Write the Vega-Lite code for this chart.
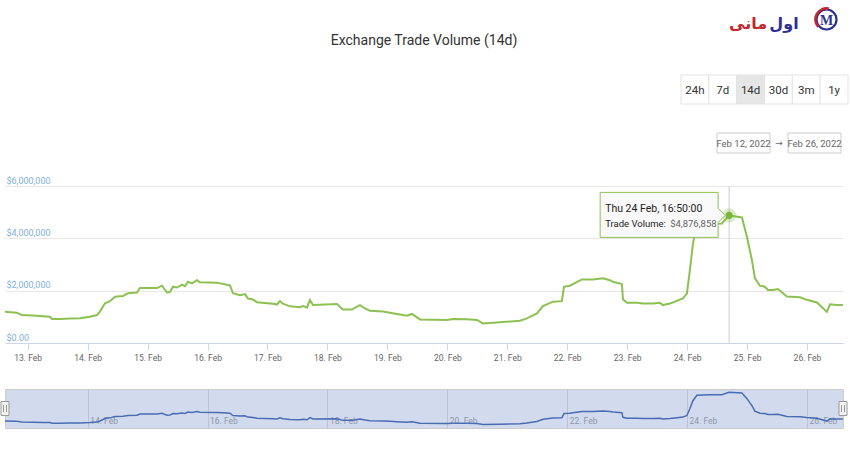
{
  "$schema": "https://vega.github.io/schema/vega-lite/v6.json",
  "background": "white",
  "padding": {"left": -2, "top": 0, "right": 0, "bottom": 0},
  "bounds": "flush",
  "spacing": 46,
  "config": {"font": "Roboto", "view": {"stroke": null}},
  "datasets": {
    "vol": [
      {"t": "2022-02-12T14:55", "v": 1190000}, {"t": "2022-02-12T19:36", "v": 1160000}, {"t": "2022-02-12T21:36", "v": 1070000},
      {"t": "2022-02-13T02:07", "v": 1050000}, {"t": "2022-02-13T06:07", "v": 1020000}, {"t": "2022-02-13T08:56", "v": 1000000},
      {"t": "2022-02-13T09:44", "v": 920000}, {"t": "2022-02-13T12:56", "v": 920000}, {"t": "2022-02-13T16:56", "v": 940000},
      {"t": "2022-02-13T20:56", "v": 950000}, {"t": "2022-02-14T00:56", "v": 1000000}, {"t": "2022-02-14T03:44", "v": 1070000},
      {"t": "2022-02-14T04:56", "v": 1200000}, {"t": "2022-02-14T06:56", "v": 1520000}, {"t": "2022-02-14T08:57", "v": 1600000},
      {"t": "2022-02-14T10:57", "v": 1770000}, {"t": "2022-02-14T14:09", "v": 1800000}, {"t": "2022-02-14T16:09", "v": 1900000},
      {"t": "2022-02-14T19:45", "v": 1930000}, {"t": "2022-02-14T20:57", "v": 2100000}, {"t": "2022-02-15T03:46", "v": 2100000},
      {"t": "2022-02-15T05:46", "v": 2190000}, {"t": "2022-02-15T07:46", "v": 1930000}, {"t": "2022-02-15T08:58", "v": 1950000},
      {"t": "2022-02-15T10:10", "v": 2150000}, {"t": "2022-02-15T11:46", "v": 2120000}, {"t": "2022-02-15T13:46", "v": 2230000},
      {"t": "2022-02-15T14:58", "v": 2170000}, {"t": "2022-02-15T16:10", "v": 2340000}, {"t": "2022-02-15T17:46", "v": 2280000},
      {"t": "2022-02-15T19:46", "v": 2400000}, {"t": "2022-02-15T20:58", "v": 2320000}, {"t": "2022-02-16T03:47", "v": 2300000},
      {"t": "2022-02-16T06:11", "v": 2260000}, {"t": "2022-02-16T08:59", "v": 2200000}, {"t": "2022-02-16T10:11", "v": 1900000},
      {"t": "2022-02-16T12:59", "v": 1830000}, {"t": "2022-02-16T14:59", "v": 1870000}, {"t": "2022-02-16T16:11", "v": 1700000},
      {"t": "2022-02-16T18:11", "v": 1660000}, {"t": "2022-02-16T19:47", "v": 1560000}, {"t": "2022-02-17T02:11", "v": 1500000},
      {"t": "2022-02-17T03:48", "v": 1470000}, {"t": "2022-02-17T05:00", "v": 1600000}, {"t": "2022-02-17T06:12", "v": 1500000},
      {"t": "2022-02-17T09:00", "v": 1400000}, {"t": "2022-02-17T13:01", "v": 1370000}, {"t": "2022-02-17T14:13", "v": 1410000},
      {"t": "2022-02-17T15:49", "v": 1360000}, {"t": "2022-02-17T17:01", "v": 1640000}, {"t": "2022-02-17T18:13", "v": 1450000},
      {"t": "2022-02-18T03:49", "v": 1490000}, {"t": "2022-02-18T06:13", "v": 1280000}, {"t": "2022-02-18T09:50", "v": 1280000},
      {"t": "2022-02-18T11:50", "v": 1390000}, {"t": "2022-02-18T13:02", "v": 1450000}, {"t": "2022-02-18T15:02", "v": 1320000},
      {"t": "2022-02-18T17:02", "v": 1230000}, {"t": "2022-02-18T22:14", "v": 1200000}, {"t": "2022-02-19T01:02", "v": 1160000},
      {"t": "2022-02-19T03:50", "v": 1110000}, {"t": "2022-02-19T07:50", "v": 1040000}, {"t": "2022-02-19T09:50", "v": 1110000},
      {"t": "2022-02-19T13:03", "v": 900000}, {"t": "2022-02-19T23:52", "v": 880000}, {"t": "2022-02-20T02:16", "v": 920000},
      {"t": "2022-02-20T07:52", "v": 910000}, {"t": "2022-02-20T11:52", "v": 880000}, {"t": "2022-02-20T14:16", "v": 750000},
      {"t": "2022-02-20T21:04", "v": 790000}, {"t": "2022-02-21T05:05", "v": 850000}, {"t": "2022-02-21T07:53", "v": 940000},
      {"t": "2022-02-21T11:53", "v": 1130000}, {"t": "2022-02-21T14:17", "v": 1410000}, {"t": "2022-02-21T18:17", "v": 1580000},
      {"t": "2022-02-21T21:53", "v": 1600000}, {"t": "2022-02-21T22:41", "v": 2150000}, {"t": "2022-02-22T01:05", "v": 2190000},
      {"t": "2022-02-22T02:17", "v": 2250000}, {"t": "2022-02-22T05:54", "v": 2430000}, {"t": "2022-02-22T10:18", "v": 2430000},
      {"t": "2022-02-22T14:18", "v": 2470000}, {"t": "2022-02-22T17:06", "v": 2400000}, {"t": "2022-02-22T18:19", "v": 2340000},
      {"t": "2022-02-22T21:55", "v": 2250000}, {"t": "2022-02-22T22:19", "v": 1670000}, {"t": "2022-02-22T23:55", "v": 1540000},
      {"t": "2022-02-23T03:55", "v": 1540000}, {"t": "2022-02-23T06:19", "v": 1510000}, {"t": "2022-02-23T10:19", "v": 1510000},
      {"t": "2022-02-23T13:07", "v": 1540000}, {"t": "2022-02-23T14:19", "v": 1450000}, {"t": "2022-02-23T17:08", "v": 1510000},
      {"t": "2022-02-23T19:08", "v": 1580000}, {"t": "2022-02-23T22:20", "v": 1700000}, {"t": "2022-02-23T23:56", "v": 1900000},
      {"t": "2022-02-24T01:08", "v": 2790000}, {"t": "2022-02-24T02:20", "v": 3800000}, {"t": "2022-02-24T03:56", "v": 4500000},
      {"t": "2022-02-24T09:00", "v": 4550000}, {"t": "2022-02-24T13:56", "v": 4570000}, {"t": "2022-02-24T16:50", "v": 4876858},
      {"t": "2022-02-24T21:57", "v": 4800000}, {"t": "2022-02-24T23:57", "v": 4060000}, {"t": "2022-02-25T01:57", "v": 3170000},
      {"t": "2022-02-25T03:09", "v": 2470000}, {"t": "2022-02-25T05:10", "v": 2190000}, {"t": "2022-02-25T07:10", "v": 2150000},
      {"t": "2022-02-25T08:22", "v": 2030000}, {"t": "2022-02-25T10:22", "v": 2030000}, {"t": "2022-02-25T12:22", "v": 2060000},
      {"t": "2022-02-25T15:58", "v": 1780000}, {"t": "2022-02-25T21:10", "v": 1750000}, {"t": "2022-02-25T23:58", "v": 1650000},
      {"t": "2022-02-26T03:58", "v": 1550000}, {"t": "2022-02-26T07:59", "v": 1190000}, {"t": "2022-02-26T09:11", "v": 1480000},
      {"t": "2022-02-26T11:59", "v": 1450000}, {"t": "2022-02-26T14:23", "v": 1450000}
    ],
    "hover": [{"t": "2022-02-24T16:50", "v": 4876858, "series": "Trade Volume"}],
    "range": [{"key": "from", "t": "2022-02-12T14:55", "row": "dates"}, {"key": "to", "t": "2022-02-26T14:25", "row": "dates"}],
    "buttons": [
      {"label": "24h", "selected": false, "row": "buttons"}, {"label": "7d", "selected": false, "row": "buttons"},
      {"label": "14d", "selected": true, "row": "buttons"}, {"label": "30d", "selected": false, "row": "buttons"},
      {"label": "3m", "selected": false, "row": "buttons"}, {"label": "1y", "selected": false, "row": "buttons"}
    ]
  },
  "vconcat": [
    {
      "width": 838,
      "height": 140,
      "layer": [
        {
          "data": {"values": [{"row": "title", "label": "Exchange Trade Volume (14d)"}]},
          "mark": {"type": "text", "fontSize": 14, "color": "#333333"},
          "encoding": {
            "y": {"field": "row", "type": "nominal", "axis": null, "scale": {"type": "band", "domain": ["title"], "range": [30, 52], "paddingInner": 0, "paddingOuter": 0}},
            "text": {"field": "label"}
          }
        },
        {
          "data": {"values": [{"row": "logo", "word": "مانی"}, {"row": "logo", "word": "اول"}]},
          "mark": {"type": "text", "fontSize": 16, "font": "DejaVu Sans", "fontWeight": "bold"},
          "encoding": {
            "x": {"field": "word", "type": "nominal", "sort": null, "axis": null, "scale": {"type": "band", "domain": ["مانی", "اول"], "range": [725, 797], "paddingInner": 0, "paddingOuter": 0}},
            "y": {"field": "row", "type": "nominal", "axis": null, "scale": {"type": "band", "domain": ["logo"], "range": [15, 33], "paddingInner": 0, "paddingOuter": 0}},
            "color": {"field": "word", "type": "nominal", "legend": null, "scale": {"domain": ["مانی", "اول"], "range": ["#c1272d", "#2e3192"]}},
            "text": {"field": "word"}
          }
        },
        {
          "data": {"values": [{"row": "icon", "letter": "M"}]},
          "encoding": {
            "x": {"field": "letter", "type": "nominal", "axis": null, "scale": {"type": "band", "domain": ["M"], "range": [810, 833], "paddingInner": 0, "paddingOuter": 0}},
            "y": {"field": "row", "type": "nominal", "axis": null, "scale": {"type": "band", "domain": ["icon"], "range": [9, 30], "paddingInner": 0, "paddingOuter": 0}}
          },
          "layer": [
            {"mark": {"type": "point", "shape": "circle", "size": 400, "filled": false, "stroke": "#2e3192", "strokeWidth": 2.2, "opacity": 1}},
            {"mark": {"type": "arc", "radius": 12.4, "radius2": 9.8, "theta": -2.3, "theta2": 0.2, "fill": "#c1272d"}},
            {"mark": {"type": "text", "font": "Liberation Serif", "fontWeight": "bold", "fontSize": 14, "color": "#2e3192", "dy": 1}, "encoding": {"text": {"field": "letter"}}}
          ]
        },
        {
          "data": {"name": "buttons"},
          "encoding": {
            "x": {"field": "label", "type": "nominal", "sort": null, "axis": null, "scale": {"type": "band", "domain": ["24h", "7d", "14d", "30d", "3m", "1y"], "range": [676, 843], "paddingInner": 0, "paddingOuter": 0}},
            "y": {"field": "row", "type": "nominal", "axis": null, "scale": {"type": "band", "domain": ["buttons"], "range": [75, 104], "paddingInner": 0, "paddingOuter": 0}}
          },
          "layer": [
            {"mark": {"type": "rect", "stroke": "#e3e3e3", "strokeWidth": 1},
             "encoding": {"fill": {"condition": {"test": "datum.selected", "value": "#e6e6e6"}, "value": "#ffffff"}}},
            {"mark": {"type": "text", "fontSize": 11.5, "color": "#333333", "dy": 1}, "encoding": {"text": {"field": "label"}}}
          ]
        },
        {
          "data": {"name": "range"},
          "encoding": {
            "x": {"field": "key", "type": "nominal", "sort": null, "axis": null, "scale": {"type": "band", "domain": ["from", "to"], "range": [712, 836], "paddingInner": 0.2535, "paddingOuter": 0}},
            "y": {"field": "row", "type": "nominal", "axis": null, "scale": {"type": "band", "domain": ["dates"], "range": [133, 153], "paddingInner": 0, "paddingOuter": 0}}
          },
          "layer": [
            {"mark": {"type": "rect", "stroke": "#cccccc", "strokeWidth": 1, "fill": "#ffffff"}},
            {"mark": {"type": "text", "fontSize": 9.5, "color": "#666666", "dy": 1}, "encoding": {"text": {"field": "t", "type": "temporal", "format": "%b %d, %Y"}}}
          ]
        },
        {
          "data": {"values": [{"row": "dates", "key": "arrow", "label": "→"}]},
          "mark": {"type": "text", "fontSize": 9, "color": "#666666", "font": "DejaVu Sans"},
          "encoding": {
            "x": {"field": "key", "type": "nominal", "axis": null, "scale": {"type": "band", "domain": ["arrow"], "range": [765, 783], "paddingInner": 0, "paddingOuter": 0}},
            "y": {"field": "row", "type": "nominal", "axis": null, "scale": {"type": "band", "domain": ["dates"], "range": [133, 153], "paddingInner": 0, "paddingOuter": 0}},
            "text": {"field": "label"}
          }
        }
      ],
      "resolve": {"scale": {"x": "independent", "y": "independent", "color": "independent"}}
    },
    {
      "width": 838,
      "height": 157,
      "encoding": {
        "x": {"field": "t", "type": "temporal",
          "scale": {"domain": [{"year": 2022, "month": 2, "date": 12, "hours": 14, "minutes": 55}, {"year": 2022, "month": 2, "date": 26, "hours": 14, "minutes": 25}]},
          "axis": {"title": null, "format": "%d. %b", "tickCount": {"interval": "day", "step": 1}, "grid": false, "labelColor": "#666666", "labelFontSize": 8.5, "tickColor": "#ccd6eb", "domainColor": "#ccd6eb", "tickSize": 7, "labelPadding": 3, "labelFlush": false, "labelOverlap": false}},
        "y": {"field": "v", "type": "quantitative",
          "scale": {"domain": [0, 6000000], "nice": false},
          "axis": {"title": null, "values": [0, 2000000, 4000000, 6000000], "labelExpr": "datum.value === 0 ? '$0.00' : format(datum.value, '$,.0f')", "domain": false, "ticks": false, "labelAlign": "left", "labelBaseline": "alphabetic", "labelPadding": -1, "labelOffset": -3, "labelColor": "#7fb0d9", "labelFontSize": 9, "gridColor": "#e6e6e6", "labelFlush": false}}
      },
      "layer": [
        {"data": {"name": "vol"}, "mark": {"type": "line", "color": "#8cc152", "strokeWidth": 2}},
        {"data": {"name": "hover"}, "mark": {"type": "rule", "color": "#cccccc", "strokeWidth": 1}, "encoding": {"y": null}},
        {"data": {"name": "hover"}, "mark": {"type": "point", "shape": "circle", "size": 200, "filled": true, "color": "#8cc152", "opacity": 0.3}},
        {"data": {"name": "hover"}, "mark": {"type": "point", "shape": "circle", "size": 50, "filled": true, "color": "#7cb342", "opacity": 1}},
        {"data": {"name": "hover"}, "mark": {"type": "point", "shape": "M-129,-23H-11V-7L-4,0L-11,7V22H-129Z", "size": 4, "filled": true, "fill": "#f9f9f9", "stroke": "#8cc152", "strokeWidth": 1, "opacity": 1}},
        {"data": {"name": "hover"}, "mark": {"type": "text", "align": "left", "baseline": "middle", "dx": -124, "dy": -6, "fontSize": 10.5, "color": "#222222"},
         "encoding": {"text": {"field": "t", "type": "temporal", "format": "%a %d %b, %H:%M:%S"}}},
        {"data": {"name": "hover"}, "mark": {"type": "text", "align": "left", "baseline": "middle", "dx": -124, "dy": 9, "fontSize": 9.5, "color": "#222222", "text": "Trade Volume:"}},
        {"data": {"name": "hover"}, "mark": {"type": "text", "align": "left", "baseline": "middle", "dx": -59, "dy": 9, "fontSize": 9.5, "color": "#666666"},
         "encoding": {"text": {"field": "v", "type": "quantitative", "format": "$,.0f"}}}
      ]
    },
    {
      "width": 838,
      "height": 39,
      "view": {"fill": "#d2dbed", "stroke": "#cccccc"},
      "encoding": {
        "x": {"field": "t", "type": "temporal",
          "scale": {"domain": [{"year": 2022, "month": 2, "date": 12, "hours": 14, "minutes": 55}, {"year": 2022, "month": 2, "date": 26, "hours": 14, "minutes": 25}]},
          "axis": {"title": null, "values": [{"year": 2022, "month": 2, "date": 14}, {"year": 2022, "month": 2, "date": 16}, {"year": 2022, "month": 2, "date": 18}, {"year": 2022, "month": 2, "date": 20}, {"year": 2022, "month": 2, "date": 22}, {"year": 2022, "month": 2, "date": 24}, {"year": 2022, "month": 2, "date": 26}],
            "format": "%d. %b", "grid": true, "gridColor": "#bcc4d3", "domain": false, "ticks": false, "labelAlign": "left", "labelBaseline": "alphabetic", "labelPadding": -5, "labelOffset": 2, "labelColor": "#8c96a8", "labelFontSize": 8.5, "labelFlush": false, "labelOverlap": false}}
      },
      "layer": [
        {"data": {"name": "vol"}, "mark": {"type": "line", "color": "#4a6cb3", "strokeWidth": 1.5},
         "encoding": {"y": {"field": "v", "type": "quantitative", "scale": {"domain": [300000, 5300000], "nice": false, "zero": false}, "axis": null}}},
        {"data": {"name": "range"}, "mark": {"type": "point", "shape": "M-4,-7H4V7H-4Z M-1.5,-3.5V3.5 M1.5,-3.5V3.5", "size": 4, "filled": true, "fill": "#f2f2f2", "stroke": "#999999", "strokeWidth": 1, "opacity": 1}}
      ]
    }
  ]
}
